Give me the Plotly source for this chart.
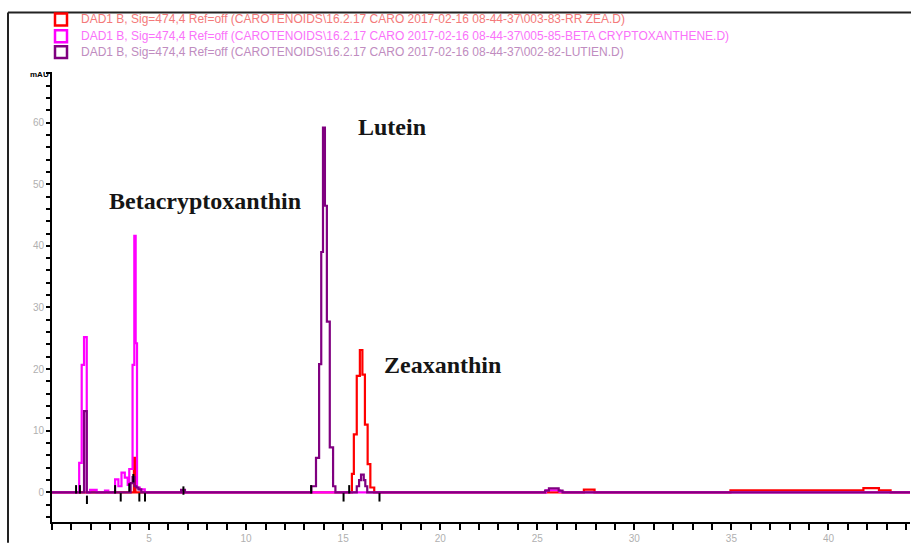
import plotly.graph_objects as go

# Retention times (min) and absorbance (mAU) of the three DAD1 B runs, Sig=474,4
lut_t = [0, 1.65, 1.79, 3.95, 4.05, 4.15, 4.25, 4.35, 4.45, 4.60, 6.65, 6.85,
         13.36, 13.60, 13.76, 13.87, 13.96, 14.06, 14.16, 14.31, 14.48, 14.60,
         15.70, 15.82, 15.92, 16.06, 16.14, 16.24,
         25.40, 25.60, 26.10, 26.30, 44.2]
lut_v = [0, 13.2, 0, 0, 1.5, 2.5, 1.0, 0.8, 0.5, 0, 0.4, 0,
         1.0, 5.6, 20.8, 39.0, 59.2, 46.5, 27.7, 7.3, 1.0, 0,
         1.0, 2.0, 2.9, 2.0, 1.0, 0,
         0.3, 0.65, 0.3, 0, 0]

bcx_t = [0, 1.40, 1.53, 1.65, 1.79, 1.96, 2.30, 2.73, 2.90,
         3.25, 3.42, 3.58, 3.75, 3.90, 3.98, 4.15, 4.24, 4.31, 4.38, 4.52, 4.78,
         25.45, 26.15, 26.35, 44.2]
bcx_v = [0, 4.8, 20.7, 25.2, 0, 0.4, 0, 0.3, 0,
         2.1, 1.0, 3.2, 2.4, 1.2, 3.8, 20.7, 41.6, 24.2, 0.8, 0.5, 0,
         0.35, 0.1, 0, 0]

zea_t = [0, 4.22, 4.30, 15.45, 15.55, 15.70, 15.86, 15.99, 16.12, 16.26, 16.40, 16.60,
         27.40, 27.95, 34.95, 41.80, 42.60, 43.20, 44.2]
zea_v = [0, 5.6, 0, 3.0, 9.4, 18.9, 23.1, 19.1, 11.0, 4.6, 0.8, 0,
         0.45, 0, 0.35, 0.7, 0.35, 0, 0]

# Integration event marks (time, level)
event_t = [1.24, 1.44, 1.80, 3.25, 3.54, 3.98, 4.19, 4.50, 4.79, 6.77, 13.35, 15.02, 15.31, 16.87]
event_v = [0.5, 0.5, -1.2, 0.5, -0.8, 0.8, 2.3, -0.8, -0.8, 0.3, 0.5, -0.8, 0.5, -0.8]

run_names = [
    "DAD1 B, Sig=474,4 Ref=off (CAROTENOIDS\\16.2.17 CARO 2017-02-16 08-44-37\\003-83-RR ZEA.D)",
    "DAD1 B, Sig=474,4 Ref=off (CAROTENOIDS\\16.2.17 CARO 2017-02-16 08-44-37\\005-85-BETA CRYPTOXANTHENE.D)",
    "DAD1 B, Sig=474,4 Ref=off (CAROTENOIDS\\16.2.17 CARO 2017-02-16 08-44-37\\002-82-LUTIEN.D)",
]
run_colors = ["#ff0000", "#ff00ff", "#800080"]
name_colors = ["#f47a7a", "#fa72fa", "#c08cc0"]

peak_names = ["Lutein", "Betacryptoxanthin", "Zeaxanthin"]
peak_pos_t = [17.5, 7.9, 20.1]
peak_pos_v = [59.3, 47.3, 20.6]

x_major = [5, 10, 15, 20, 25, 30, 35, 40]
y_major = [0, 10, 20, 30, 40, 50, 60]

W, H = 911, 545
L, R, T, B = 52, 1, 72, 19

fig = go.Figure()
for tt, vv, col in [(zea_t, zea_v, run_colors[0]),
                    (bcx_t, bcx_v, run_colors[1]),
                    (lut_t, lut_v, run_colors[2])]:
    fig.add_trace(go.Scatter(x=tt, y=vv, mode="lines", line=dict(color=col, width=2.2, shape="hv"),
                             showlegend=False, hoverinfo="skip"))

fig.add_trace(go.Scatter(x=event_t, y=event_v, mode="markers",
                         marker=dict(symbol="line-ns", size=6, line=dict(width=2, color="black")),
                         showlegend=False, hoverinfo="skip"))


def px_x(px):
    return (px - L) / (W - L - R)


def px_y(py):
    return (H - B - py) / (H - T - B)


shapes = []
annotations = []

# Frame lines
shapes.append(dict(type="line", xref="paper", yref="paper", x0=px_x(8), x1=px_x(W + 2),
                   y0=px_y(12), y1=px_y(12), line=dict(color="#222222", width=2)))
shapes.append(dict(type="line", xref="paper", yref="paper", x0=px_x(8), x1=px_x(8),
                   y0=px_y(12), y1=px_y(H + 2), line=dict(color="#222222", width=2)))

# Run key
key_y = [19, 36, 52]
for name, col, tcol, ky in zip(run_names, run_colors, name_colors, key_y):
    shapes.append(dict(type="rect", xref="paper", yref="paper",
                       x0=px_x(55), x1=px_x(67), y0=px_y(ky + 6), y1=px_y(ky - 6),
                       line=dict(color=col, width=2.5), fillcolor="white"))
    annotations.append(dict(text=name, xref="paper", yref="paper", x=px_x(79), y=px_y(ky),
                            xanchor="left", yanchor="middle", showarrow=False,
                            font=dict(family="Liberation Sans", size=12, color=tcol)))

# Peak labels
for nm, pt, pv in zip(peak_names, peak_pos_t, peak_pos_v):
    annotations.append(dict(text="<b>%s</b>" % nm, x=pt, y=pv, xref="x", yref="y",
                            showarrow=False, xanchor="center", yanchor="middle",
                            font=dict(family="Liberation Serif", size=24, color="#151515")))

annotations.append(dict(text="<b>mAU</b>", xref="paper", yref="paper", x=px_x(51), y=px_y(75),
                        xanchor="right", yanchor="middle", showarrow=False,
                        font=dict(family="Liberation Sans", size=8, color="black")))

fig.update_layout(
    width=W, height=H,
    margin=dict(l=L, r=R, t=T, b=B),
    paper_bgcolor="white", plot_bgcolor="white",
    shapes=shapes, annotations=annotations,
    showlegend=False,
)
fig.update_xaxes(range=[0, 44.2], tickmode="array", tickvals=x_major,
                 ticks="outside", ticklen=6, tickwidth=2, tickcolor="black",
                 minor=dict(tickmode="linear", tick0=0, dtick=1, ticks="outside",
                            ticklen=6, tickwidth=2, tickcolor="black"),
                 showline=True, linecolor="black", linewidth=2, showgrid=False, zeroline=False,
                 tickfont=dict(family="Liberation Sans", size=10, color="#b0b0b0"))
fig.update_yaxes(range=[-4.8, 68.2], tickmode="array", tickvals=y_major,
                 ticks="outside", ticklen=4, tickwidth=2, tickcolor="black",
                 minor=dict(tickmode="linear", tick0=0, dtick=2, ticks="outside",
                            ticklen=4, tickwidth=2, tickcolor="black"),
                 showline=True, linecolor="black", linewidth=2, showgrid=False, zeroline=False,
                 tickfont=dict(family="Liberation Sans", size=10, color="#b0b0b0"))

fig.write_html("out.html")
